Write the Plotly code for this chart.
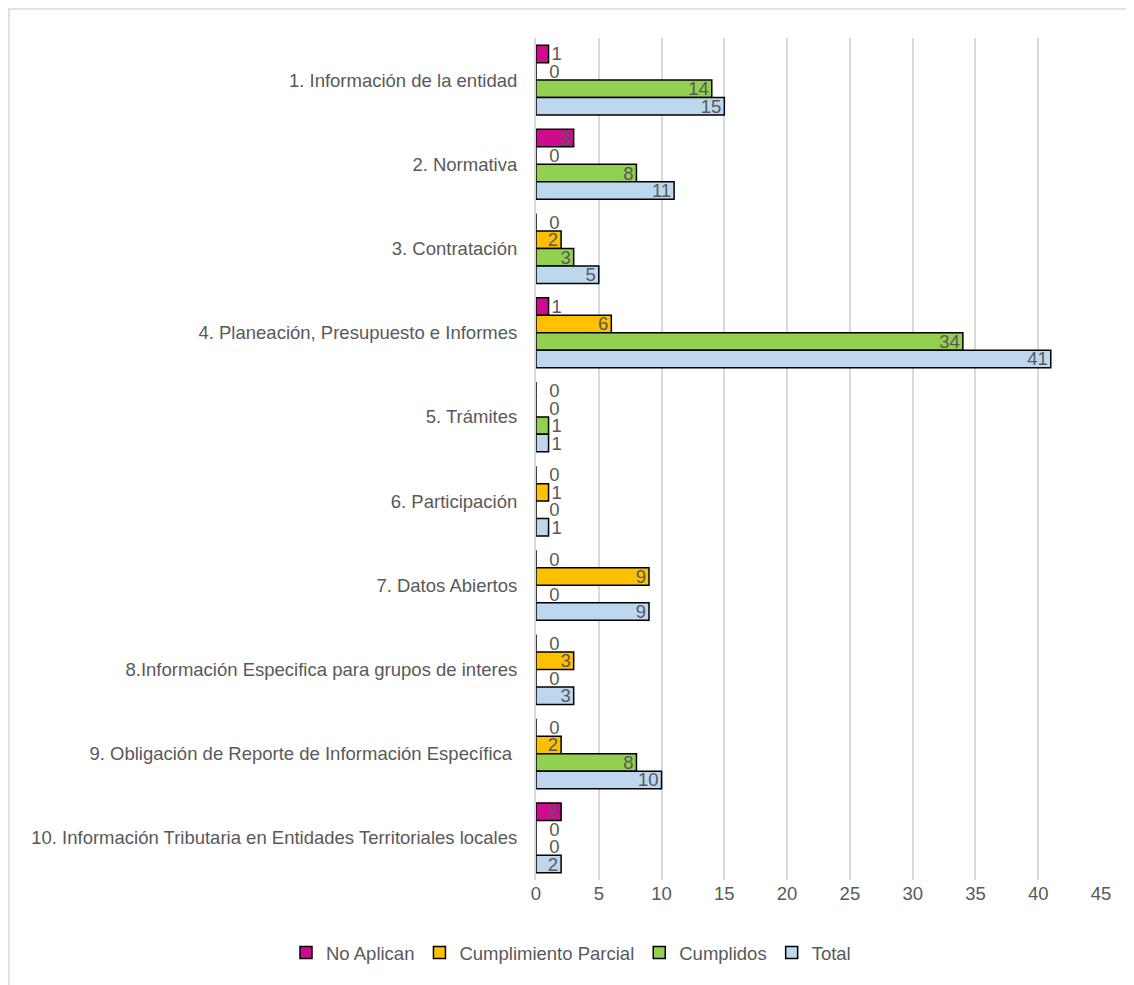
import plotly.graph_objects as go

categories = [
    "1. Información de la entidad",
    "2. Normativa",
    "3. Contratación",
    "4. Planeación, Presupuesto e Informes",
    "5. Trámites",
    "6. Participación",
    "7. Datos Abiertos",
    "8.Información Especifica para grupos de interes",
    "9. Obligación de Reporte de Información Específica ",
    "10. Información Tributaria en Entidades Territoriales locales",
]
no_aplican = [1, 3, 0, 1, 0, 0, 0, 0, 0, 2]
cumplimiento_parcial = [0, 0, 2, 6, 0, 1, 9, 3, 2, 0]
cumplidos = [14, 8, 3, 34, 1, 0, 0, 0, 8, 0]
total = [15, 11, 5, 41, 1, 1, 9, 3, 10, 2]
x_ticks = [0, 5, 10, 15, 20, 25, 30, 35, 40, 45]

series = [
    ("No Aplican", no_aplican, "#CC0C8C"),
    ("Cumplimiento Parcial", cumplimiento_parcial, "#FFC000"),
    ("Cumplidos", cumplidos, "#92D050"),
    ("Total", total, "#BDD7EE"),
]

TEXT = "#595959"
FONT = "Liberation Sans, Arial, sans-serif"
FS = 18.5
NBSP = "\u00a0"


def label(v):
    # zero-length bars: Excel puts the label a little right of the axis
    return (NBSP * 2 + str(v)) if v == 0 else str(v)


fig = go.Figure()
for name, vals, color in series:
    fig.add_trace(go.Bar(
        y=categories, x=vals, name=name, orientation="h",
        marker=dict(color=color, line=dict(color="#000000", width=1.5)),
        text=[label(v) for v in vals],
        textposition=["inside" if v >= 2 else "outside" for v in vals],
        insidetextanchor="end",
        constraintext="none",
        textangle=0,
        textfont=dict(family=FONT, size=FS, color=TEXT),
        insidetextfont=dict(family=FONT, size=FS, color=TEXT),
        outsidetextfont=dict(family=FONT, size=FS, color=TEXT),
        cliponaxis=False,
    ))

# page has an 8px body margin; reference pixel coords are shifted by 8
OFF = 8
W, H = 1134 - OFF, 985 - OFF
L, T = 536 - OFF, 38 - OFF
R = W - (1101 - OFF)
B = H - (880 - OFF)
pw, ph = W - L - R, H - T - B

fig.update_layout(
    width=W, height=H,
    barmode="group", bargap=0.17, bargroupgap=0,
    margin=dict(l=L, r=R, t=T, b=B),
    plot_bgcolor="white", paper_bgcolor="white",
    font=dict(family=FONT, size=FS, color=TEXT),
    showlegend=True,
    legend=dict(orientation="h", x=(278 - L) / pw, xanchor="left",
                y=(880 - 953) / ph, yanchor="middle",
                font=dict(family=FONT, size=FS, color=TEXT),
                itemwidth=30, tracegroupgap=0),
    xaxis=dict(range=[0, 45], tickvals=x_ticks, showgrid=True,
               gridcolor="#D9D9D9", gridwidth=1.5, zeroline=False,
               showline=False, ticks="", tickfont=dict(size=FS, color=TEXT)),
    yaxis=dict(autorange="reversed", showgrid=False, showline=True,
               linecolor="#D9D9D9", linewidth=1.5, ticks="",
               ticksuffix="  ", ticklabelstandoff=3,
               tickfont=dict(size=FS, color=TEXT)),
    shapes=[
        dict(type="line", xref="paper", yref="paper",
             x0=(0 - L) / pw, x1=(W + 5 - L) / pw,
             y0=(H - B - 1) / ph, y1=(H - B - 1) / ph,
             line=dict(color="#D9D9D9", width=1.5)),
        dict(type="line", xref="paper", yref="paper",
             x0=(1 - L) / pw, x1=(1 - L) / pw,
             y0=(H - B - 1) / ph, y1=(H - B - H - 5) / ph,
             line=dict(color="#D9D9D9", width=1.5)),
    ],
)

fig.write_html("out.html")
